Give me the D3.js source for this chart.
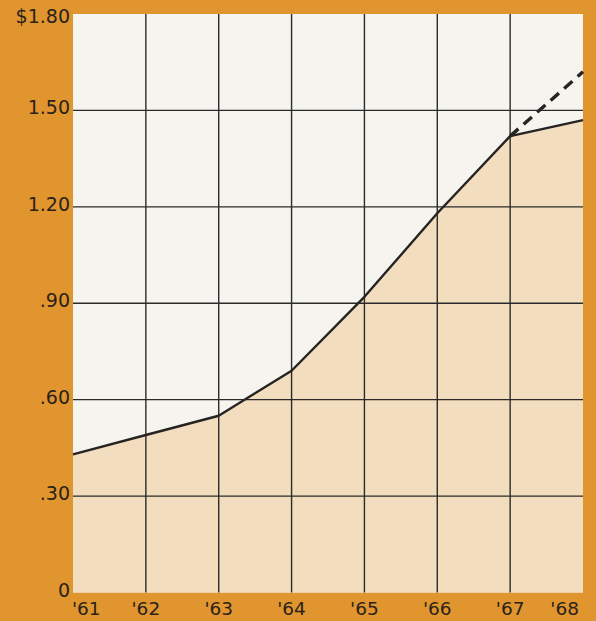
<!DOCTYPE html>
<html>
<head>
<meta charset="utf-8">
<script src="https://cdn.jsdelivr.net/npm/d3@7"></script>
<style>
  html, body { margin: 0; padding: 0; background: #E0952F; }
  svg { display: block; }
</style>
</head>
<body>
<svg id="chart" width="596" height="621"></svg>
<script>
// ---- data ----
const years = [1961, 1962, 1963, 1964, 1965, 1966, 1967, 1968];
const yearLabels = ["'61", "'62", "'63", "'64", "'65", "'66", "'67", "'68"];
const actualValues = [0.43, 0.49, 0.55, 0.69, 0.92, 1.18, 1.42, 1.47];
const projectedYears = [1967, 1968];
const projectedValues = [1.42, 1.62];
const yTicks = [0, 0.30, 0.60, 0.90, 1.20, 1.50, 1.80];
const yTickLabels = ["0", ".30", ".60", ".90", "1.20", "1.50", "$1.80"];

// ---- layout ----
const W = 596, H = 621;
const m = { left: 73, right: 13, top: 14, bottom: 28.5 };
const svg = d3.select("#chart");

const x = d3.scaleLinear().domain([1961, 1968]).range([m.left, W - m.right]);
const y = d3.scaleLinear().domain([0, 1.8]).range([H - m.bottom, m.top]);

svg.append("rect").attr("width", W).attr("height", H).attr("fill", "#E0952F");

// plot background
svg.append("rect")
  .attr("x", x(1961)).attr("y", y(1.8))
  .attr("width", x(1968) - x(1961)).attr("height", y(0) - y(1.8))
  .attr("fill", "#F5F4EF");

// filled area under actual line
const area = d3.area().x((d, i) => x(years[i])).y0(y(0)).y1(d => y(d));
svg.append("path").datum(actualValues).attr("d", area).attr("fill", "#F2DEBE");

// grid
const gridColor = "#2b2a2a";
svg.append("g").selectAll("line").data(years.slice(1, -1)).join("line")
  .attr("x1", d => x(d)).attr("x2", d => x(d))
  .attr("y1", y(1.8)).attr("y2", y(0))
  .attr("stroke", gridColor).attr("stroke-width", 1.4);
svg.append("g").selectAll("line").data(yTicks.slice(1, -1)).join("line")
  .attr("x1", x(1961)).attr("x2", x(1968))
  .attr("y1", d => y(d)).attr("y2", d => y(d))
  .attr("stroke", gridColor).attr("stroke-width", 1.4);

// lines
const line = d3.line().x(d => x(d[0])).y(d => y(d[1]));
svg.append("path")
  .datum(projectedYears.map((yr, i) => [yr, projectedValues[i]]))
  .attr("d", line).attr("fill", "none")
  .attr("stroke", "#262322").attr("stroke-width", 3.4)
  .attr("stroke-dasharray", "11,7");
svg.append("path")
  .datum(years.map((yr, i) => [yr, actualValues[i]]))
  .attr("d", line).attr("fill", "none")
  .attr("stroke", "#262322").attr("stroke-width", 2.4)
  .attr("stroke-linejoin", "round");

// y labels
const font = "'DejaVu Sans', sans-serif";
svg.append("g").selectAll("text").data(yTicks).join("text")
  .attr("x", m.left - 3)
  .attr("y", d => d === 1.8 ? y(d) + 9 : y(d) + 4)
  .attr("text-anchor", "end")
  .attr("font-family", font).attr("font-size", 19)
  .attr("fill", "#2a2219")
  .text((d, i) => yTickLabels[i]);

// x labels
svg.append("g").selectAll("text").data(years).join("text")
  .attr("x", (d, i) => i === 0 ? x(d) - 1 : (i === years.length - 1 ? x(d) - 4 : x(d)))
  .attr("y", 615)
  .attr("text-anchor", (d, i) => i === 0 ? "start" : (i === years.length - 1 ? "end" : "middle"))
  .attr("font-family", font).attr("font-size", 18.5)
  .attr("fill", "#2a2219")
  .text((d, i) => yearLabels[i]);
</script>
</body>
</html>
